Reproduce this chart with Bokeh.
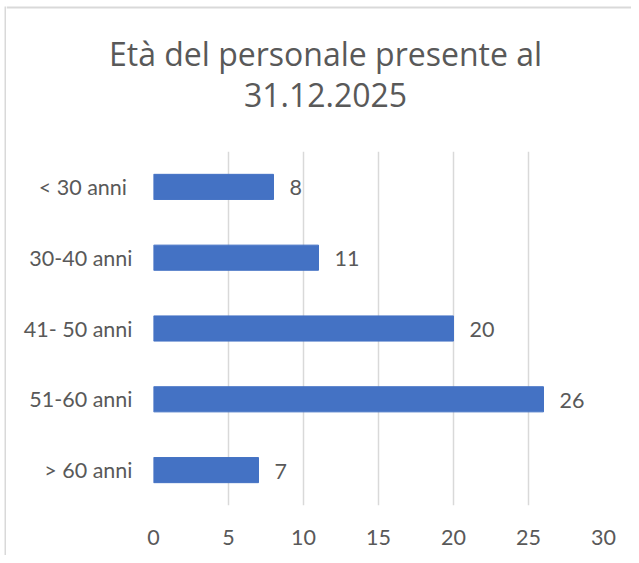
from bokeh.plotting import figure
from bokeh.models import ColumnDataSource, FactorRange, Range1d, FixedTicker, BoxAnnotation
from bokeh.layouts import column, row
from bokeh.core.properties import value
from bokeh.embed import file_html
from bokeh.resources import INLINE

# data (listed bottom to top)
categories = ["> 60 anni", "51-60 anni", "41- 50 anni", "30-40 anni", "< 30 anni "]
counts = [7, 26, 20, 11, 8]
x_ticks = [0, 5, 10, 15, 20, 25, 30]
title_lines = ["Età del personale presente al", "31.12.2025"]

FONT = "Lato"
TITLE_FONT = "Open Sans"
TXT = "#595959"
GRID = "#d9d9d9"
BAR = "#4472C4"

STRIP_W, TOTAL_W, TOTAL_H, TITLE_H = 6, 631, 555, 135
W = TOTAL_W - STRIP_W
MAIN_H = TOTAL_H - TITLE_H


def blank(w, h):
    f = figure(width=w, height=h, x_range=Range1d(0, w), y_range=Range1d(0, h),
               x_axis_type=None, y_axis_type=None, min_border=0,
               output_backend="svg", toolbar_location=None)
    f.grid.visible = False
    f.outline_line_color = None
    f.background_fill_color = "white"
    f.border_fill_color = "white"
    return f


# ---- left border strip (pixel coordinates, y upward) ----
s = blank(STRIP_W, TOTAL_H)
s.add_layout(BoxAnnotation(left=4, right=6, bottom=0, top=TOTAL_H - 6,
                           fill_color=GRID, fill_alpha=1, line_color=None))

# ---- title area ----
t = blank(W, TITLE_H)
tsrc = ColumnDataSource(dict(x=[325 - STRIP_W] * 2,
                             y=[TITLE_H - 52.5, TITLE_H - 94.0],
                             txt=title_lines))
t.text(x="x", y="y", text="txt", source=tsrc, text_font=value(TITLE_FONT),
       text_font_size="32px", text_color=TXT, text_align="center", text_baseline="middle")
t.add_layout(BoxAnnotation(left=0, right=W, bottom=TITLE_H - 8, top=TITLE_H - 6,
                           fill_color=GRID, fill_alpha=1, line_color=None))

# ---- main chart ----
src = ColumnDataSource(dict(cat=categories, val=counts, lab=[str(v) for v in counts]))

p = figure(
    y_range=FactorRange(*categories, range_padding=0),
    x_range=Range1d(0, 30),
    width=W, height=MAIN_H,
    min_border_left=153 - STRIP_W, min_border_right=W - (153 - STRIP_W) - 450,
    min_border_top=151 - TITLE_H, min_border_bottom=MAIN_H - (151 - TITLE_H) - 354,
    frame_width=450, frame_height=354,
    output_backend="svg", toolbar_location=None,
)
p.outline_line_color = None
p.background_fill_color = "white"
p.border_fill_color = "white"

p.hbar(y="cat", left=0, right="val", height=0.355, source=src,
       fill_color=BAR, line_color=BAR, line_width=1)

p.text(x="val", y="cat", text="lab", source=src, x_offset=16, y_offset=1,
       text_font=value(FONT), text_font_size="21.5px", text_color=TXT,
       text_align="left", text_baseline="middle")

p.ygrid.grid_line_color = None
p.xgrid.grid_line_color = GRID
p.xgrid.grid_line_width = 1.5
p.xaxis.ticker = FixedTicker(ticks=x_ticks)

for ax in (p.xaxis, p.yaxis):
    ax.axis_line_color = None
    ax.major_tick_line_color = None
    ax.minor_tick_line_color = None
    ax.major_tick_out = 0
    ax.major_tick_in = 0
    ax.major_label_text_font = FONT
    ax.major_label_text_font_size = "21.5px"
    ax.major_label_text_color = TXT
p.xaxis.major_label_standoff = 24
p.yaxis.major_label_standoff = 21

# wrap the chart in its own row so the title canvas is not frame-aligned to it
layout = row(s, column(t, row(p, spacing=0), spacing=0), spacing=0)

open("out.html", "w").write(file_html(layout, INLINE))
